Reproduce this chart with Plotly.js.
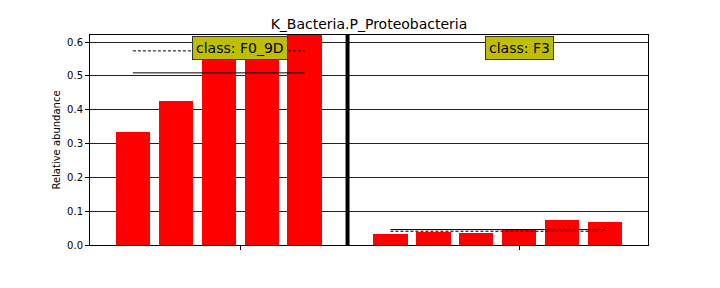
<!DOCTYPE html>
<html>
<head>
<meta charset="utf-8">
<script src="https://cdn.plot.ly/plotly-3.0.1.min.js"></script>
<style>html,body{margin:0;padding:0;background:#fff}#chart{width:720px;height:288px}</style>
</head>
<body>
<div id="chart"></div>
<script>
// Data
const titleText = "K_Bacteria.P_Proteobacteria";
const classNames = ["F0_9D", "F3"];
const valuesF0_9D = [0.335, 0.427, 0.574, 0.585, 0.625];
const valuesF3 = [0.0317, 0.0386, 0.0347, 0.0466, 0.0733, 0.0673];
const meanLines = [0.509, 0.0456];
const medianLines = [0.574, 0.0406];
const yTicks = [0.0, 0.1, 0.2, 0.3, 0.4, 0.5, 0.6];
const yMax = 0.621;

const groups = [valuesF0_9D, valuesF3];
const traces = [];
const shapes = [];
const annotations = [];
const tickvals = [];
let offset = 0;
groups.forEach((vals, gi) => {
  const xs = vals.map((_, i) => offset + i);
  traces.push({
    type: 'bar', x: xs, y: vals, width: 0.8,
    marker: {color: '#ff0000', line: {width: 0}},
    hoverinfo: 'skip', showlegend: false
  });
  const x0 = xs[0], x1 = xs[xs.length - 1];
  traces.push({
    type: 'scatter', mode: 'lines', x: [x0, x1], y: [meanLines[gi], meanLines[gi]],
    line: {color: '#000', width: 1}, showlegend: false, hoverinfo: 'skip'
  });
  traces.push({
    type: 'scatter', mode: 'lines', x: [x0, x1], y: [medianLines[gi], medianLines[gi]],
    line: {color: '#000', width: 1, dash: '3px,2px'}, showlegend: false, hoverinfo: 'skip'
  });
  const center = offset + vals.length / 2;
  tickvals.push(center);
  annotations.push({
    text: 'class: ' + classNames[gi], x: center, xref: 'x', y: 0.938, yref: 'paper',
    xanchor: 'center', yanchor: 'middle', showarrow: false,
    font: {family: 'DejaVu Sans', size: 14, color: '#000'},
    bgcolor: '#bfbf00', bordercolor: '#333', borderwidth: 1, borderpad: 3
  });
  offset += vals.length;
  if (gi < groups.length - 1) {
    shapes.push({type: 'line', xref: 'x', yref: 'paper', x0: offset, x1: offset, y0: 0, y1: 1,
      line: {color: '#000', width: 4}, layer: 'above'});
    offset += 1;
  }
});

const layout = {
  width: 720, height: 288,
  margin: {l: 90, r: 72, t: 35, b: 43, pad: 0},
  paper_bgcolor: '#fff', plot_bgcolor: '#fff',
  font: {family: 'DejaVu Sans', size: 10, color: '#000'},
  title: {text: titleText, x: 0.5, xref: 'paper', y: 1 - 24 / 288, yref: 'container',
    xanchor: 'center', yanchor: 'middle', font: {family: 'DejaVu Sans', size: 14, color: '#000'}},
  bargap: 0,
  xaxis: {range: [-1, offset], showgrid: false, zeroline: false, tickvals: tickvals,
    ticktext: tickvals.map(() => ''), ticks: 'outside', ticklen: 4, tickcolor: '#000',
    showline: true, linecolor: '#000', linewidth: 1, mirror: true, fixedrange: true},
  yaxis: {range: [0, yMax], tickvals: yTicks, ticktext: yTicks.map(v => v.toFixed(1)),
    showgrid: true, gridcolor: '#222', gridwidth: 1, zeroline: false,
    ticks: 'outside', ticklen: 4, tickcolor: '#000',
    showline: true, linecolor: '#000', linewidth: 1, mirror: true,
    title: {text: 'Relative abundance', font: {size: 10, color: '#000'}, standoff: 4},
    fixedrange: true},
  shapes: shapes,
  annotations: annotations
};
Plotly.newPlot('chart', traces, layout, {displayModeBar: false, staticPlot: true});
</script>
</body>
</html>
